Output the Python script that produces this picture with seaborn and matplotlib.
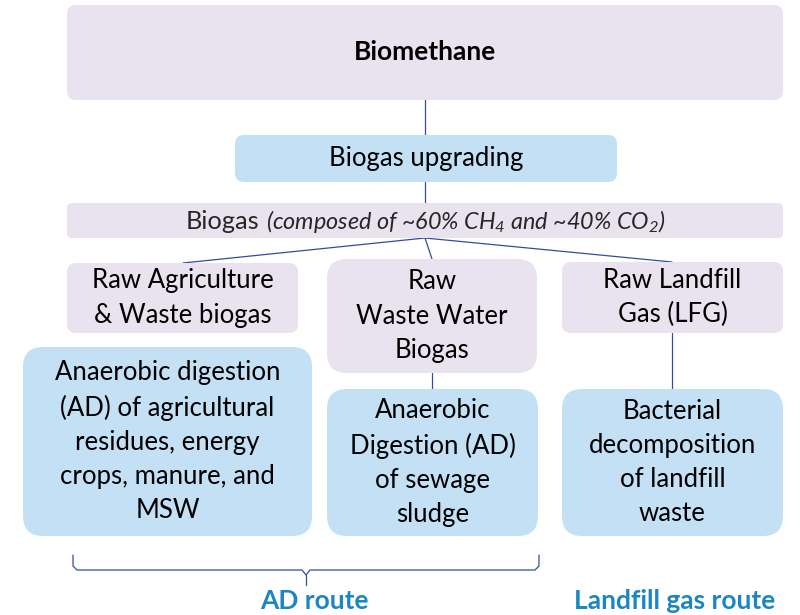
import matplotlib
matplotlib.use("Agg")
import matplotlib.pyplot as plt
import seaborn as sns
from matplotlib.patches import FancyBboxPatch

# nodes of the flow diagram: label, box (x0, y0, x1, y1) in pixel units, fill kind
node_labels = [
    "Biomethane",
    "Biogas upgrading",
    "Raw Agriculture\n& Waste biogas",
    "Raw\nWaste Water\nBiogas",
    "Raw Landfill\nGas (LFG)",
    "Anaerobic digestion\n(AD) of agricultural\nresidues, energy\ncrops, manure, and\nMSW",
    "Anaerobic\nDigestion (AD)\nof sewage\nsludge",
    "Bacterial\ndecomposition\nof landfill\nwaste",
]
node_boxes = [
    (67, 5, 783, 100),
    (235, 135, 617, 182),
    (67, 263, 298, 333),
    (327, 259, 537, 373),
    (562, 262, 783, 333),
    (23, 347, 312, 536),
    (327, 389, 538, 536),
    (562, 389, 783, 536),
]
node_kind = ["product", "process", "product", "product", "product", "process", "process", "process"]
biogas_box = (67, 203, 783, 238)

# connectors
edges = [
    ((425, 100), (425, 135)),
    ((425, 182), (425, 203)),
    ((425, 238), (183, 263)),
    ((425, 238), (432, 259)),
    ((425, 238), (672, 262)),
    ((432, 373), (432, 389)),
    ((672, 333), (672, 389)),
]

route_labels = ["AD route", "Landfill gas route"]
route_x = [314, 675]

lavender = "#e9e3f0"
blue = "#c4e0f4"
line_c = "#2f4f9c"
route_c = "#1a87c2"

sns.set_theme(style="white")
plt.rcParams["font.family"] = ["Lato", "DejaVu Sans"]
plt.rcParams["mathtext.fontset"] = "custom"
plt.rcParams["mathtext.rm"] = "Lato:italic"
plt.rcParams["mathtext.it"] = "Lato:italic"

fig = plt.figure(figsize=(8, 6.15), dpi=100)
ax = fig.add_axes([0, 0, 1, 1])
ax.set_xlim(0, 800)
ax.set_ylim(615, 0)
ax.axis("off")


def draw_box(x0, y0, x1, y1, color, pad):
    ax.add_patch(FancyBboxPatch((x0 + pad, y0 + pad), x1 - x0 - 2 * pad, y1 - y0 - 2 * pad,
                                boxstyle=f"round,pad={pad},rounding_size={pad}",
                                fc=color, ec="none", zorder=2))


for (a, b) in edges:
    ax.plot([a[0], b[0]], [a[1], b[1]], color=line_c, lw=0.9, zorder=1)

for label, (x0, y0, x1, y1), kind in zip(node_labels, node_boxes, node_kind):
    color = lavender if kind == "product" else blue
    rad = 20 if (y1 - y0) > 100 else 9
    draw_box(x0, y0, x1, y1, color, rad)
    cx, cy = (x0 + x1) / 2, (y0 + y1) / 2
    if label == "Biomethane":
        ax.text(cx, cy, label, ha="center", va="center", fontsize=19, fontweight="bold",
                color="black", zorder=3)
    else:
        ax.text(cx, cy, label, ha="center", va="center", fontsize=18.5, linespacing=1.46,
                color="black", zorder=3)

draw_box(*biogas_box, lavender, 5)
by = (biogas_box[1] + biogas_box[3]) / 2 + 1
ax.text(259, by, "Biogas", ha="right", va="center", fontsize=18.3, zorder=3)
ax.text(266, by, r"(composed of ~60% CH$_4$ and ~40% CO$_2$)", ha="left", va="center",
        fontsize=16.8, style="italic", zorder=3)

# brace under the AD route
bx0, bx1, bmid = 73, 539, 306
ax.plot([bx0, bx0, bx0 + 4, bmid - 4, bmid, bmid + 4, bx1 - 4, bx1, bx1],
        [555, 566, 570, 570, 575, 570, 570, 566, 555], color=line_c, lw=0.9)
ax.plot([bmid, bmid], [575, 585], color=line_c, lw=0.9)

for lab, x in zip(route_labels, route_x):
    ax.text(x, 601, lab, ha="center", va="center", fontsize=19, fontweight="bold", color=route_c)

fig.savefig("out.png", dpi=100)
